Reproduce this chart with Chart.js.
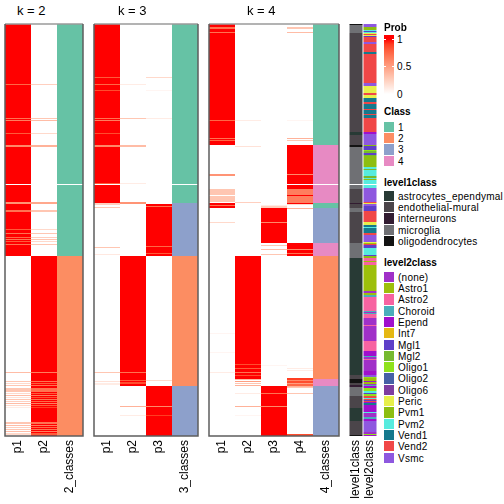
<!DOCTYPE html>
<html>
<head>
<meta charset="utf-8">
<script src="https://cdn.jsdelivr.net/npm/chart.js"></script>
<style>
  body { margin: 0; width: 504px; height: 504px; position: relative; background: #fff; overflow: hidden;
         font-family: "Liberation Sans", Arial, sans-serif; color: #000; }
  canvas { position: absolute; }
  .txt { position: absolute; white-space: nowrap; }
  .sw { position: absolute; width: 10px; }
</style>
</head>
<body>
<canvas id="k2" width="80" height="481" style="left:4px;top:23px;width:80px;height:481px"></canvas>
<canvas id="k3" width="106" height="481" style="left:93px;top:23px;width:106px;height:481px"></canvas>
<canvas id="k4" width="132" height="481" style="left:208px;top:23px;width:132px;height:481px"></canvas>
<canvas id="ann" width="30" height="481" style="left:348px;top:23px;width:30px;height:481px"></canvas>
<div id="legends"></div>

<script>
// rows are samples, top to bottom (412 of them); runs are [from, to, value]
const nRows = 412;

const panelTitles = ['k = 2', 'k = 3', 'k = 4'];
const k2Labels = ['p1', 'p2', '2_classes'];
const k3Labels = ['p1', 'p2', 'p3', '3_classes'];
const k4Labels = ['p1', 'p2', 'p3', 'p4', '4_classes'];
const annLabels = ['level1class', 'level2class'];

const classNames = ['1', '2', '3', '4'];
const classColors = ['#66C2A5', '#FC8D62', '#8DA0CB', '#E78AC3'];
const probTicks = ['1', '0.5', '0'];

const level1Names = ['astrocytes_ependymal', 'endothelial-mural', 'interneurons', 'microglia', 'oligodendrocytes'];
const level1Colors = ['#283A35', '#4B454A', '#321C31', '#6F7074', '#131313'];

const level2Names = ['(none)', 'Astro1', 'Astro2', 'Choroid', 'Epend', 'Int7', 'Mgl1', 'Mgl2', 'Oligo1',
                     'Oligo2', 'Oligo6', 'Peric', 'Pvm1', 'Pvm2', 'Vend1', 'Vend2', 'Vsmc'];
const level2Colors = ['#A030C8', '#9DBF0B', '#F763A1', '#4AAEBB', '#A00FCC', '#E5B813', '#5E40C8', '#76B92F',
                      '#8FE21C', '#4660A6', '#7E3DA0', '#E7EF4A', '#8DBE10', '#57EBDE', '#15798D', '#F04747', '#8E58DF'];

// k = 2
const k2_p1 = [[0,232,1],[60,61,0.75],[94,95,0.7],[96,97,0.65],[109,110,0.8],[121,123,0.6],[160,161,0],
  [178,180,0.55],[186,188,0.7],[205,206,0.8],[209,210,0.7],[213,214,0.75],[215,216,0.7],[217,218,0.8],[220,221,0.7],
  [348,349,0.35],[357,358,0.3],[359,360,0.2],[361,362,0.3],[364,368,0.3],[369,370,0.2],[371,372,0.35],[373,374,0.15],
  [375,376,0.3],[377,378,0.25],[379,380,0.35],[381,382,0.2],[383,384,0.1],[398,400,0.3],[401,402,0.35],[403,404,0.25],
  [405,406,0.3],[407,408,0.35],[409,411,0.2]];
const k2_p2 = [[60,61,0.25],[94,95,0.3],[96,97,0.35],[109,110,0.2],[121,123,0.4],[178,180,0.45],[186,188,0.3],
  [205,206,0.2],[209,210,0.3],[213,214,0.25],[215,216,0.3],[217,218,0.2],[220,221,0.3],
  [232,412,1],[348,349,0.65],[357,358,0.7],[359,360,0.8],[361,362,0.7],[364,368,0.7],[369,370,0.8],[371,372,0.65],
  [373,374,0.85],[375,376,0.7],[377,378,0.75],[379,380,0.65],[381,382,0.8],[383,384,0.9],[398,400,0.7],[401,402,0.65],
  [403,404,0.75],[405,406,0.7],[407,408,0.65],[409,411,0.8]];
const k2_cls = [[0,232,1],[160,161,0],[232,412,2]];

// k = 3
const k3_p1 = [[0,179,1],[53,54,0.8],[60,61,0.75],[66,67,0.85],[94,95,0.7],[96,97,0.65],[109,110,0.85],[121,123,0.6],
  [159,160,0.8],[160,161,0],[179,181,0.25],[183,184,0.3],[223,224,0.3],[230,231,0.12],[348,349,0.3],[357,358,0.15],[359,361,0.1]];
const k3_p2 = [[60,61,0.1],[94,95,0.3],[121,123,0.35],[159,160,0.1],[178,180,0.55],[232,362,1],[348,349,0.7],
  [356,357,0.8],[358,360,0.85],[382,383,0.4],[391,392,0.1]];
const k3_p3 = [[53,54,0.2],[66,67,0.05],[94,95,0.1],[180,232,1],[182,183,0.7],[222,223,0.75],[229,230,0.8],
  [356,357,0.2],[362,412,1],[382,383,0.6],[391,392,0.9]];
const k3_cls = [[0,179,1],[160,161,0],[179,232,3],[232,362,2],[362,412,3]];

// k = 4
const k4_p1 = [[0,121,1],[3,5,0.7],[8,9,0.7],[96,97,0.75],[114,115,0.7],[116,117,0.75],[150,152,0.55],[165,171,0.3],
  [172,178,0.3],[179,184,1],[181,182,0.7],[198,199,0.2],[309,310,0.05],[328,329,0.05],[348,349,0.1]];
const k4_p2 = [[96,97,0.1],[122,123,0.15],[178,179,0.25],[232,355,1],[340,341,0.85],[344,345,0.8],[348,349,0.7],
  [351,352,0.85],[355,356,0.35],[357,358,0.5],[359,360,0.3],[361,362,0.4],[369,370,0.1],[382,383,0.4],[391,392,0.05]];
const k4_p3 = [[181,182,0.1],[182,184,0.25],[184,219,1],[198,199,0.6],[221,222,0.3],[225,226,0.35],[230,231,0.3],
  [341,342,0.05],[362,412,1],[369,370,0.7],[382,383,0.6]];
const k4_p4 = [[3,5,0.3],[8,9,0.35],[96,97,0.05],[114,115,0.4],[116,117,0.3],[121,180,1],[150,151,0.6],[160,161,0],
  [165,171,0.65],[172,179,0.65],[180,181,0.2],[184,185,0.4],[219,232,1],[225,226,0.6],[229,230,0.7],
  [344,345,0.1],[346,347,0.1],[354,356,0.9],[356,357,0.6],[357,359,0.85],[359,360,0.5],[360,362,0.75],
  [362,363,0.4],[363,364,0.3],[369,370,0.3],[410,412,0.85]];
const k4_cls = [[0,121,1],[121,179,4],[160,161,0],[179,184,1],[184,219,3],[219,232,4],[232,355,2],[355,362,4],[362,412,3]];

// annotations
const level1Runs = [[0,1,'oligodendrocytes'],[1,9,'microglia'],[9,108,'endothelial-mural'],[108,111,'astrocytes_ependymal'],
  [111,121,'endothelial-mural'],[121,123,'oligodendrocytes'],[123,160,'microglia'],[160,161,''],[161,165,'microglia'],
  [165,179,'endothelial-mural'],[179,180,'interneurons'],[180,184,'endothelial-mural'],[184,188,'microglia'],
  [188,219,'endothelial-mural'],[219,234,'microglia'],[234,351,'astrocytes_ependymal'],[351,355,'endothelial-mural'],
  [355,359,'oligodendrocytes'],[359,361,'endothelial-mural'],[361,363,'interneurons'],[363,372,'microglia'],
  [372,384,'endothelial-mural'],[384,397,'astrocytes_ependymal'],[397,411,'endothelial-mural'],[411,412,'oligodendrocytes']];
const level2Runs = [[0,3,'Vsmc'],[3,6,'Pvm1'],[6,7,'Pvm2'],[7,8,'Mgl1'],[8,9,'Pvm2'],[9,10,'Peric'],[10,11,'Vend2'],
  [11,12,'Peric'],[12,13,'Mgl1'],[13,18,'Vend2'],[18,20,'Vsmc'],[20,28,'Vend2'],[28,30,'Vend1'],[30,59,'Vend2'],
  [59,62,'Vsmc'],[62,69,'Peric'],[69,71,'Vend2'],[71,74,'Peric'],[74,78,'Vend1'],[78,80,'Vend2'],[80,85,'Vend1'],
  [85,86,'Vend2'],[86,90,'Vend1'],[90,91,'Vend2'],[91,94,'Vend1'],[94,108,'Vend2'],[108,110,'Epend'],[110,121,'Vsmc'],
  [121,122,'Pvm1'],[122,126,'Mgl1'],[126,127,'Oligo1'],[127,129,'Mgl2'],[129,131,'Mgl1'],[131,132,'Mgl2'],
  [132,143,'Pvm1'],[143,145,'Pvm2'],[145,146,'Mgl2'],[146,152,'Pvm2'],[152,154,'Mgl2'],[154,155,'Pvm2'],
  [155,156,'Pvm1'],[156,160,'Pvm2'],[160,161,''],[161,164,'Pvm2'],[164,178,'Vsmc'],[178,179,'Vend2'],[179,180,'Peric'],
  [180,182,'Vsmc'],[182,187,'Mgl1'],[187,198,'Vend2'],[198,201,'Peric'],[201,203,'Vend1'],[203,204,'Pvm2'],
  [204,209,'Vend1'],[209,211,'Vend2'],[211,218,'Vsmc'],[218,219,'Peric'],[219,220,'Astro1'],[220,221,'Vend2'],
  [221,224,'Mgl1'],[224,231,'Pvm2'],[231,232,'Mgl1'],[232,234,'Pvm1'],[234,237,'Astro2'],[237,238,'Astro1'],
  [238,241,'Astro2'],[241,267,'Astro1'],[267,269,'(none)'],[269,271,'Astro1'],[271,273,'Choroid'],[273,287,'Astro2'],
  [287,288,'Choroid'],[288,289,'(none)'],[289,290,'Choroid'],[290,294,'Astro2'],[294,301,'(none)'],[301,302,'Astro2'],
  [302,317,'(none)'],[317,327,'Astro2'],[327,332,'Epend'],[332,333,'Choroid'],[333,335,'(none)'],[335,336,'Astro2'],
  [336,347,'(none)'],[347,351,'Epend'],[351,353,'Vsmc'],[353,354,'Oligo1'],[354,357,'Astro1'],[357,358,'Epend'],
  [358,360,'Astro1'],[360,361,'(none)'],[361,362,'Choroid'],[362,364,'Epend'],[364,367,'Oligo1'],[367,369,'Pvm2'],
  [369,370,'Mgl1'],[370,372,'Oligo1'],[372,374,'Vend2'],[374,375,'Pvm2'],[375,376,'Vend2'],[376,377,'Mgl1'],
  [377,378,'Vend2'],[378,379,'Epend'],[379,381,'Vend1'],[381,388,'Epend'],[388,389,'Pvm2'],[389,393,'(none)'],
  [393,395,'Choroid'],[395,397,'Epend'],[397,408,'Vsmc'],[408,410,'(none)'],[410,411,'Oligo1'],[411,412,'Epend']];

// white -> red, interpolated in LAB like colorRamp2
function probColor(p) {
  const L = 100 + (53.24 - 100) * p, A = 80.09 * p, B = 67.2 * p;
  const fy = (L + 16) / 116, fx = fy + A / 500, fz = fy - B / 200;
  const f = t => t > 0.206893 ? t * t * t : (t - 16 / 116) / 7.787;
  const X = 0.95047 * f(fx), Y = f(fy), Z = 1.08883 * f(fz);
  const r = 3.2406 * X - 1.5372 * Y - 0.4986 * Z;
  const g = -0.9689 * X + 1.8758 * Y + 0.0415 * Z;
  const b = 0.0557 * X - 0.2040 * Y + 1.0570 * Z;
  const c = v => {
    v = Math.max(0, Math.min(1, v));
    v = v <= 0.0031308 ? 12.92 * v : 1.055 * Math.pow(v, 1 / 2.4) - 0.055;
    return Math.round(v * 255);
  };
  return 'rgb(' + c(r) + ',' + c(g) + ',' + c(b) + ')';
}
const classColor = v => v ? classColors[v - 1] : '#ffffff';
const level1Color = v => v ? level1Colors[level1Names.indexOf(v)] : '#ffffff';
const level2Color = v => v ? level2Colors[level2Names.indexOf(v)] : '#ffffff';

const framePlugin = {
  id: 'frame',
  afterDraw(chart) {
    const a = chart.chartArea, ctx = chart.ctx;
    ctx.save();
    ctx.lineWidth = 1.5;
    ctx.strokeStyle = '#9a9a9a';
    ctx.beginPath(); ctx.moveTo(a.left, a.top); ctx.lineTo(a.right, a.top); ctx.stroke();
    ctx.strokeStyle = '#5e5e5e';
    ctx.beginPath();
    ctx.moveTo(a.left, a.top); ctx.lineTo(a.left, a.bottom); ctx.lineTo(a.right, a.bottom); ctx.lineTo(a.right, a.top);
    ctx.stroke();
    ctx.restore();
  }
};

function heatmap(id, labels, cols, framed) {
  new Chart(document.getElementById(id), {
    type: 'bar',
    data: {
      labels: labels,
      datasets: cols.map((c, i) => ({
        data: c.runs.map(r => ({ x: labels[i], y: [r[0], r[1]] })),
        backgroundColor: c.runs.map(r => c.color(r[2])),
        borderWidth: 0,
        inflateAmount: 0,
        barPercentage: c.bar || 1,
        categoryPercentage: 1,
        grouped: false
      }))
    },
    options: {
      responsive: false,
      animation: false,
      layout: { padding: { top: 1, left: 1, right: 1, bottom: 0 } },
      plugins: { legend: { display: false }, tooltip: { enabled: false }, title: { display: false } },
      scales: {
        x: {
          grid: { display: false, drawTicks: false },
          border: { display: false },
          ticks: { minRotation: 90, maxRotation: 90, autoSkip: false, padding: 4, color: '#000',
                   font: { family: '"Liberation Sans", Arial, sans-serif', size: 12 } },
          afterFit: s => { s.height = 68; s.paddingLeft = 0; s.paddingRight = 0; }
        },
        y: { display: false, min: 0, max: nRows, reverse: true }
      }
    },
    plugins: framed ? [framePlugin] : []
  });
}

heatmap('k2', k2Labels, [
  { runs: k2_p1, color: probColor }, { runs: k2_p2, color: probColor }, { runs: k2_cls, color: classColor }
], true);
heatmap('k3', k3Labels, [
  { runs: k3_p1, color: probColor }, { runs: k3_p2, color: probColor }, { runs: k3_p3, color: probColor },
  { runs: k3_cls, color: classColor }
], true);
heatmap('k4', k4Labels, [
  { runs: k4_p1, color: probColor }, { runs: k4_p2, color: probColor }, { runs: k4_p3, color: probColor },
  { runs: k4_p4, color: probColor }, { runs: k4_cls, color: classColor }
], true);
heatmap('ann', annLabels, [
  { runs: level1Runs, color: level1Color, bar: 0.93 }, { runs: level2Runs, color: level2Color, bar: 0.93 }
], false);

// titles and legends (html text)
const box = document.getElementById('legends');
function addText(txt, left, top, size, bold, lh) {
  const d = document.createElement('div');
  d.className = 'txt';
  d.textContent = txt;
  d.style.left = left + 'px';
  d.style.top = top + 'px';
  d.style.fontSize = size + 'px';
  d.style.lineHeight = (lh || size) + 'px';
  if (bold) d.style.fontWeight = 'bold';
  else if (size < 12) d.style.letterSpacing = '0.25px';
  box.appendChild(d);
}
const titleLeft = [17, 118, 247];
panelTitles.forEach((t, i) => addText(t, titleLeft[i], 4, 13, false));

const step = 11.3;
function legendBlock(title, titleMid, swTop, names, colors) {
  addText(title, 384, titleMid - 4.9, 10, true);
  names.forEach((n, i) => {
    const s = document.createElement('div');
    s.className = 'sw';
    s.style.left = '384px';
    s.style.top = (swTop + i * step) + 'px';
    s.style.height = '10.3px';
    s.style.background = colors[i];
    box.appendChild(s);
    addText(n, 398, swTop + i * step, 10, false, step);
  });
}

// Prob colour bar
addText('Prob', 384, 27.5 - 4.9, 10, true);
const bar = document.createElement('div');
bar.className = 'sw';
const stops = [];
for (let i = 0; i <= 10; i++) stops.push(probColor(1 - i / 10) + ' ' + (4 + i * 5.5) + 'px');
bar.style.cssText = 'left:384px;top:35px;height:63px;width:10px;background:linear-gradient(to bottom,' + stops.join(',') + ')';
box.appendChild(bar);
const tickMid = [39, 66.5, 94];
probTicks.forEach((t, i) => {
  addText(t, 397, tickMid[i] - 5.5, 10, false, step);
  [384, 392].forEach(x => {
    const m = document.createElement('div');
    m.style.cssText = 'position:absolute;left:' + x + 'px;top:' + (tickMid[i] - 0.5) + 'px;width:2px;height:1px;background:#fff';
    box.appendChild(m);
  });
});

legendBlock('Class', 111.7, 121.7, classNames, classColors);
legendBlock('level1class', 182.5, 190.7, level1Names, level1Colors);
legendBlock('level2class', 262.5, 271.7, level2Names, level2Colors);
</script>
</body>
</html>
